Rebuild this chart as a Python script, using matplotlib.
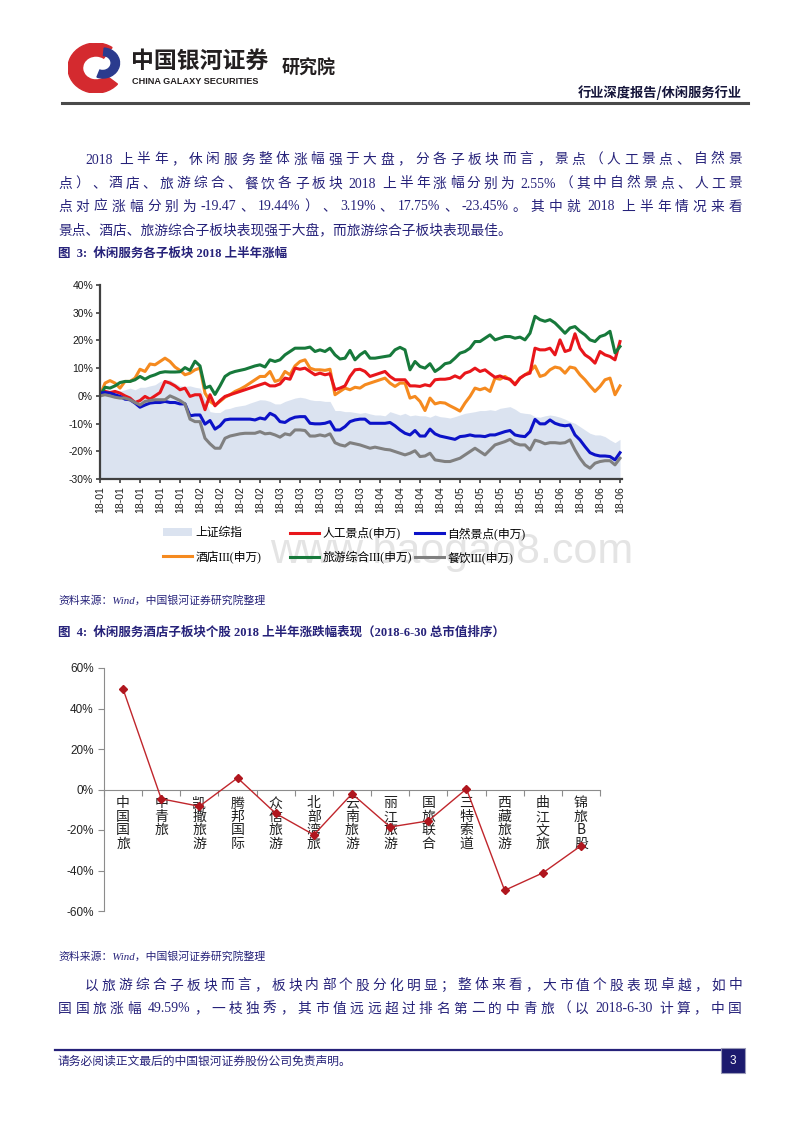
import re
import numpy as np
import matplotlib
matplotlib.use('Agg')
import matplotlib.pyplot as plt
from matplotlib.patches import Patch, Wedge, Rectangle
from matplotlib.lines import Line2D

plt.rcParams['font.family'] = ['Noto Sans CJK SC', 'DejaVu Sans']

# ---- Figure 3: cumulative change in H1 2018 (%) ----
sse = [0, 1.0, 1.1, 1.2, 1.7, 2.2, 2.8, 2.2, 3.1, 3.1,
       3.6, 4.0, 5.2, 5.8, 5.8, 4.6, 3.6, 3.4, 3.6, 3.1,
       2.8, -1.4, -5.7, -6.0, -6.0, -4.8, -4.5, -3.9, -3.6, -3.3,
       -2.6, -2.0, -1.4, -1.5, -2.0, -2.9, -2.9, -2.0, -1.4, -0.8,
       -0.5, -0.8, -1.4, -1.7, -1.7, -2.0, -2.0, -5.3, -5.3, -5.7,
       -5.7, -6.0, -6.3, -6.0, -6.5, -6.9, -6.9, -7.2, -5.7, -6.3,
       -6.9, -6.3, -7.2, -6.9, -7.2, -7.2, -7.7, -6.9, -7.5, -7.7,
       -8.0, -7.5, -6.9, -6.3, -6.0, -5.7, -5.3, -5.3, -5.0, -5.3,
       -4.5, -4.2, -3.9, -4.8, -6.0, -6.3, -6.5, -7.5, -7.7, -7.2,
       -6.9, -7.2, -7.7, -8.4, -9.3, -9.9, -11.1, -12.3, -13.5, -14.1,
       -14.1, -14.7, -15.9, -16.9, -15.7]
man_made = [0, 1.6, 1.2, 1.6, 1.0, 0, -0.8, -2.4, -1.7, -0.2,
            -1.2, 0, 1.2, 5.2, 4.6, 3.6, 2.2, 2.8, -0.2, 0.4,
            0.4, -5.0, 0.4, -3.6, -1.7, -0.2, 0.4, 1.0, 1.6, 2.2,
            2.8, 3.4, 4.0, 4.6, 3.6, 3.6, 4.3, 6.4, 6.0, 10.0,
            9.6, 10.0, 8.8, 7.6, 8.2, 7.6, 8.0, 2.2, 2.8, 3.6,
            7.0, 9.4, 9.6, 8.8, 7.0, 7.6, 8.2, 8.8, 7.0, 5.8,
            5.8, 5.8, 3.6, 3.6, 3.4, 4.0, 3.6, 5.8, 6.0, 6.0,
            6.3, 7.2, 6.4, 8.2, 8.8, 10.0, 8.8, 9.4, 8.0, 6.7,
            7.2, 6.4, 6.0, 4.0, 6.4, 7.6, 8.2, 17.2, 16.6, 16.6,
            17.2, 14.8, 20.2, 16.0, 16.6, 22.4, 17.2, 14.8, 13.6, 11.8,
            16.0, 14.8, 14.2, 13.0, 19.6]
natural = [1.0, 1.2, 1.0, 0.4, -0.2, -1.2, -1.4, -2.6, -4.1, -3.3,
           -2.6, -2.4, -2.4, -2.0, -2.4, -2.4, -2.9, -2.9, -7.2, -6.9,
           -6.9, -10.2, -8.9, -12.0, -10.8, -8.7, -8.4, -8.4, -8.4, -8.4,
           -8.4, -8.7, -8.0, -8.4, -6.3, -7.2, -9.3, -9.6, -8.4, -7.7,
           -7.5, -7.5, -9.9, -10.1, -10.1, -9.9, -9.3, -12.3, -12.3, -11.1,
           -9.3, -8.7, -8.4, -8.4, -9.9, -9.9, -9.9, -9.9, -9.6, -10.8,
           -12.3, -13.5, -14.1, -12.5, -14.5, -14.5, -12.0, -13.7, -14.5, -14.9,
           -15.3, -15.7, -14.7, -14.5, -14.1, -14.5, -14.5, -14.7, -14.1, -14.1,
           -13.5, -12.9, -12.5, -14.1, -14.5, -14.7, -12.9, -8.5, -10.1, -10.1,
           -8.7, -9.9, -10.5, -10.8, -10.5, -14.1, -15.9, -18.3, -20.5, -21.3,
           -21.7, -21.7, -21.9, -23.1, -20.5]
hotel = [0, 4.6, 5.5, 4.6, 2.8, 5.2, 5.2, 6.4, 9.6, 8.8,
         11.5, 11.2, 12.4, 13.6, 12.4, 10.4, 9.2, 7.6, 8.2, 9.4,
         10.0, 1.0, -2.0, -3.3, -2.0, -0.5, 0.4, 1.6, 2.4, 3.4,
         4.6, 5.8, 7.0, 7.0, 8.8, 5.2, 5.8, 8.8, 7.6, 10.8,
         12.4, 13.0, 10.0, 9.4, 9.4, 9.2, 9.6, 0.4, 1.6, 2.8,
         2.2, 3.1, 2.8, 4.0, 4.6, 5.2, 5.8, 6.4, 4.6, 3.4,
         4.6, 4.6, -0.8, -0.2, -2.0, -5.3, -0.8, -2.9, -2.4, -2.6,
         -3.6, -4.5, -5.5, -2.6, -0.2, 2.8, 2.2, 2.8, 1.6, 6.4,
         6.0, 7.0, 5.8, 4.3, 6.4, 7.6, 8.8, 10.8, 7.0, 7.6,
         9.4, 10.4, 10.0, 8.2, 10.4, 10.0, 7.6, 5.8, 3.6, 1.6,
         3.4, 5.8, 6.4, 0.4, 3.6]
tourism = [0, 3.1, 2.8, 3.6, 4.8, 5.2, 5.2, 5.8, 7.0, 6.0,
           7.0, 7.6, 8.4, 8.7, 8.6, 8.6, 8.7, 10.2, 9.2, 12.5,
           10.8, 2.8, 3.5, 0.5, 3.6, 7.0, 8.2, 8.8, 9.2, 9.6,
           10.2, 10.8, 11.2, 10.4, 13.0, 12.4, 13.0, 14.8, 16.0, 17.2,
           17.2, 17.2, 17.6, 16.0, 16.6, 16.0, 17.2, 14.8, 13.3, 13.6,
           16.4, 13.0, 14.8, 16.0, 13.6, 13.6, 13.9, 14.2, 14.5, 16.6,
           17.5, 16.6, 9.4, 12.4, 10.6, 10.0, 11.6, 8.8, 10.0, 11.6,
           12.0, 13.6, 15.4, 16.0, 17.2, 19.6, 19.6, 20.8, 22.0, 20.2,
           20.8, 21.4, 21.4, 20.8, 21.2, 20.2, 22.6, 28.7, 27.5, 26.9,
           27.5, 26.3, 24.5, 22.6, 24.5, 25.0, 23.3, 22.0, 20.2, 19.6,
           21.4, 22.0, 23.3, 15.5, 17.8]
catering = [0, 0.4, 0, -0.5, -0.8, -0.8, -1.4, -2.4, -3.3, -2.0,
            -1.7, -1.4, -1.4, -1.4, 0, -0.8, -1.7, -2.9, -8.4, -9.3,
            -9.3, -15.3, -17.3, -18.9, -18.9, -15.3, -14.5, -14.1, -13.7, -13.5,
            -13.5, -13.5, -12.9, -13.7, -13.5, -14.1, -14.9, -13.7, -14.1, -12.3,
            -12.3, -12.5, -14.5, -14.5, -14.1, -14.5, -13.7, -16.9, -17.7, -18.1,
            -16.9, -17.3, -17.7, -18.3, -18.9, -18.5, -18.9, -19.3, -19.5, -20.1,
            -20.7, -21.3, -20.7, -19.8, -21.9, -21.7, -20.7, -23.1, -23.4, -23.7,
            -23.7, -23.1, -22.5, -21.3, -20.1, -18.9, -20.1, -21.3, -19.5, -17.7,
            -17.1, -16.5, -15.7, -17.1, -17.7, -17.7, -19.5, -16.0, -16.5, -17.3,
            -16.9, -16.9, -17.1, -16.9, -15.9, -19.5, -22.5, -24.9, -26.1, -24.3,
            -23.7, -23.4, -23.4, -24.9, -22.5]
month_labels = ['18-01'] * 5 + ['18-02'] * 4 + ['18-03'] * 5 + ['18-04'] * 4 + ['18-05'] * 5 + ['18-06'] * 4

# ---- Figure 4: H1 2018 change of each stock (%) ----
stocks = ['中国国旅', '中青旅', '凯撒旅游', '腾邦国际', '众信旅游', '北部湾旅', '云南旅游',
          '丽江旅游', '国旅联合', '三特索道', '西藏旅游', '曲江文旅', '锦旅B股']
stock_ret = [49.59, -4.6, -8.3, 5.7, -11.8, -22.4, -2.1, -18.5, -15.5, 0.3, -49.8, -41.2, -27.8]

W, H = 800, 1132
fig = plt.figure(figsize=(8, 11.32), dpi=100)
renderer = fig.canvas.get_renderer()


def fx(x):
    return x / W


def fy(y):
    return 1 - y / H


NAVY = '#26227a'
SERIF = ['Liberation Serif', 'Noto Sans CJK SC']
SANS = ['Liberation Sans', 'Noto Sans CJK SC']


def put_line(s, x0, y, x1=None, **kw):
    # x1 given -> justify the line between x0 and x1 like the word processor does
    if x1 is None:
        fig.text(fx(x0), fy(y), s, va='center', ha='left', **kw)
        return
    objs, extra = [], []
    pad = 0
    for t in re.findall(r'[\x21-\x7e]+| |[^\x00-\x7f]', s):
        if t == ' ':
            pad += 3
            continue
        objs.append(fig.text(0, fy(y), t, va='center', ha='left', **kw))
        extra.append(pad)
        pad = 0
    widths = [o.get_window_extent(renderer).width for o in objs]
    gap = (x1 - x0 - sum(widths) - sum(extra)) / (len(objs) - 1)
    x = x0
    for o, w, e in zip(objs, widths, extra):
        x += e
        o.set_x(fx(x))
        x += w + gap


# ---- page header ----
ax_logo = fig.add_axes([fx(68), fy(93), 56 / W, 50 / H])
ax_logo.set_xlim(0, 1)
ax_logo.set_ylim(0, 1)
ax_logo.axis('off')
ax_logo.add_patch(Wedge((0.5, 0.5), 0.5, 55, 320, width=0.26, color='#d42a2f'))
ax_logo.add_patch(Wedge((0.62, 0.6), 0.3, -110, 85, width=0.15, color='#2b3b8e'))

fig.text(fx(131), fy(61), '中国银河证券', fontsize=16.5, fontweight='bold', color='#231f20', va='center')
fig.text(fx(132), fy(82), 'CHINA GALAXY SECURITIES', family='Liberation Sans', fontweight='bold',
         fontsize=6.6, color='#231f20', va='center')
fig.text(fx(282), fy(68), '研究院', fontsize=13, fontweight='bold', color='#231f20', va='center')
fig.text(fx(742), fy(93), '行业深度报告/休闲服务行业', fontsize=9.5, fontweight='bold',
         color='#15153a', ha='right', va='center')
fig.add_artist(Line2D([fx(62), fx(748)], [fy(103), fy(103)], color='#4a4a4a', lw=2.2))

# ---- paragraph 1 ----
body = dict(family=SERIF, fontsize=9.9, color=NAVY)
put_line('2018 上半年，休闲服务整体涨幅强于大盘，分各子板块而言，景点（人工景点、自然景', 85, 160, 742, **body)
put_line('点）、酒店、旅游综合、餐饮各子板块 2018 上半年涨幅分别为 2.55%（其中自然景点、人工景', 58, 184, 742, **body)
put_line('点对应涨幅分别为-19.47、19.44%）、3.19%、17.75%、-23.45%。其中就 2018 上半年情况来看', 58, 207, 742, **body)
put_line('景点、酒店、旅游综合子板块表现强于大盘，而旅游综合子板块表现最佳。', 58, 230, **body)

cap = dict(family=SERIF, fontsize=9, fontweight='bold', color=NAVY)
src = dict(family=SERIF, fontsize=7.8, style='italic', color=NAVY)
put_line('图  3:  休闲服务各子板块 2018 上半年涨幅', 58, 254, **cap)

# ---- figure 3 ----
ax1 = fig.add_axes([fx(100), fy(479), 522 / W, 194 / H])
x = np.arange(len(sse))
ax1.fill_between(x, sse, -30, color='#dbe3f0', lw=0)
series = [(hotel, '#f58a1f'), (man_made, '#e8161b'), (tourism, '#17793b'),
          (natural, '#0c12c8'), (catering, '#808080')]
for vals, col in series:
    ax1.plot(x, vals, color=col, lw=2.2, solid_joinstyle='round')
ax1.set_xlim(0, 104.4)
ax1.set_ylim(-30, 40)
ax1.set_yticks(range(-30, 41, 10))
ax1.set_yticklabels([f'{v}%' for v in range(-30, 41, 10)])
ax1.set_xticks(np.arange(0, 105, 4))
ax1.set_xticklabels(month_labels, rotation=90)
for s in ['top', 'right']:
    ax1.spines[s].set_visible(False)
for s in ['left', 'bottom']:
    ax1.spines[s].set_color('#404040')
    ax1.spines[s].set_linewidth(1.6)
ax1.tick_params(direction='out', length=3, width=1.2, color='#404040', labelsize=7.5,
                labelcolor='#1a1a1a', labelfontfamily='Liberation Sans', pad=2)

h_sse = Patch(facecolor='#dbe3f0', edgecolor='none')
h = {col: Line2D([], [], color=col, lw=2.2) for _, col in series}
leg_cols = [
    (163, [h_sse, h['#f58a1f']], ['上证综指', '酒店III(申万)']),
    (290, [h['#e8161b'], h['#17793b']], ['人工景点(申万)', '旅游综合III(申万)']),
    (415, [h['#0c12c8'], h['#808080']], ['自然景点(申万)', '餐饮III(申万)']),
]
for x0, hs, labs in leg_cols:
    fig.legend(hs, labs, loc='upper left', bbox_to_anchor=(fx(x0), fy(527)), frameon=False,
               borderpad=0, borderaxespad=0, handlelength=2.45, handletextpad=0.3,
               labelspacing=0.95, prop={'family': SERIF, 'size': 8.5})

fig.text(fx(452), fy(552), 'www.baogao8.com', family='Liberation Sans', fontsize=31,
         color='#e4e4e4', ha='center', va='center', zorder=0.5)

put_line('资料来源：Wind，中国银河证券研究院整理', 58, 600, **src)
put_line('图  4:  休闲服务酒店子板块个股 2018 上半年涨跌幅表现（2018-6-30 总市值排序）', 58, 633, **cap)

# ---- figure 4 ----
ax2 = fig.add_axes([fx(104), fy(911), 496 / W, 243 / H])
xs = np.arange(len(stocks))
ax2.plot(xs, stock_ret, color='#c0262c', lw=1.0, marker='D', ms=3.6,
         mfc='#b0161e', mec='#b0161e', zorder=3)
ax2.set_xlim(-0.5, len(stocks) - 0.5)
ax2.set_ylim(-60, 60)
ax2.set_yticks(range(-60, 61, 20))
ax2.set_yticklabels([f'{v}%' for v in range(-60, 61, 20)])
for s in ['top', 'right']:
    ax2.spines[s].set_visible(False)
ax2.spines['left'].set_color('#8c8c8c')
ax2.spines['left'].set_linewidth(0.8)
ax2.spines['bottom'].set_position(('data', 0))
ax2.spines['bottom'].set_color('#8c8c8c')
ax2.spines['bottom'].set_linewidth(0.8)
ax2.set_xticks(xs)
ax2.set_xticklabels(['\n'.join(s) for s in stocks], linespacing=0.95)
ax2.set_xticks(np.arange(-0.5, len(stocks), 1), minor=True)
ax2.tick_params(axis='x', which='major', length=0, pad=5, labelsize=10, labelcolor='#222222')
ax2.tick_params(axis='x', which='minor', length=4, width=0.8, color='#8c8c8c', direction='out')
ax2.tick_params(axis='y', length=4, width=0.8, color='#8c8c8c', direction='out',
                labelsize=8.5, labelcolor='#222222', labelfontfamily='Liberation Sans')

put_line('资料来源：Wind，中国银河证券研究院整理', 58, 956, **src)

# ---- paragraph 2 ----
put_line('以旅游综合子板块而言，板块内部个股分化明显；整体来看，大市值个股表现卓越，如中', 85, 986, 742, **body)
put_line('国国旅涨幅 49.59%，一枝独秀，其市值远远超过排名第二的中青旅（以 2018-6-30 计算，中国', 58, 1009, 742, **body)

# ---- footer ----
fig.add_artist(Line2D([fx(55), fx(720)], [fy(1050), fy(1050)], color=NAVY, lw=1.6))
fig.add_artist(Rectangle((fx(721), fy(1073)), 24 / W, 25 / H, transform=fig.transFigure,
                         facecolor='#1c1a6e', edgecolor='#9a9ab8', lw=0.8))
fig.text(fx(733), fy(1061), '3', family='Liberation Sans', fontsize=8.5, color='white',
         ha='center', va='center')
put_line('请务必阅读正文最后的中国银河证券股份公司免责声明。', 58, 1062, family=SERIF, fontsize=8.5, color=NAVY)

fig.savefig('out.png', dpi=100)
